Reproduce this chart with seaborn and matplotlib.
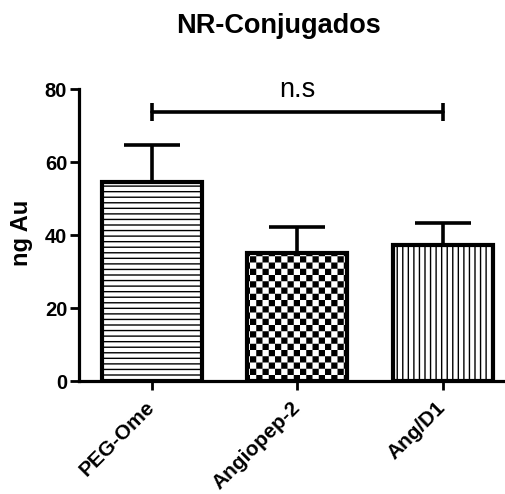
import warnings
import numpy as np
import pandas as pd
import matplotlib
matplotlib.use("Agg")
import matplotlib.pyplot as plt
from matplotlib import hatch as mhatch
from matplotlib.path import Path
import seaborn as sns

warnings.filterwarnings("ignore")

# Data
groups = ["PEG-Ome", "Angiopep-2", "Ang/D1"]
means = [54.5, 35.1, 37.2]
sems = [10.2, 7.1, 6.2]
hatches = ["---", "#", "|||"]
y_ticks = [0, 20, 40, 60, 80]
ns_label = "n.s"
ns_level = 73.7
title = "NR-Conjugados"
ylabel = "ng Au"


class CheckerHatch(mhatch.HatchPatternBase):
    """Filled checkerboard hatch, selected with '#'."""
    filled = True

    def __init__(self, hatch, density):
        self.n = hatch.count("#") * 16
        self.num_squares = (self.n * self.n) // 2 if self.n else 0
        self.num_vertices = self.num_squares * 5

    def set_vertices_and_codes(self, vertices, codes):
        n = self.n
        step = 1.0 / n
        shrink = 0.007
        k = 0
        for i in range(n):
            for j in range(n):
                if (i + j) % 2:
                    continue
                x0, y0 = i * step + shrink, j * step + shrink
                x1, y1 = (i + 1) * step - shrink, (j + 1) * step - shrink
                vertices[k:k + 5] = [(x0, y0), (x1, y0), (x1, y1), (x0, y1), (x0, y0)]
                codes[k] = Path.MOVETO
                codes[k + 1:k + 4] = Path.LINETO
                codes[k + 4] = Path.CLOSEPOLY
                k += 5


mhatch._hatch_types.append(CheckerHatch)

sns.set_style("white")
plt.rcParams["font.family"] = ["Liberation Sans", "DejaVu Sans"]
plt.rcParams["hatch.linewidth"] = 1.0
plt.rcParams["hatch.color"] = "black"
for key in ("text.color", "axes.labelcolor", "xtick.color", "ytick.color"):
    plt.rcParams[key] = "black"

fig = plt.figure(figsize=(5.06, 4.94), dpi=100)
ax = fig.add_axes([0.1561, 0.2287, 0.8626, 0.5911])

df = pd.DataFrame({"group": groups, "value": means})
sns.barplot(data=df, x="group", y="value", color="white", saturation=1,
            edgecolor="black", linewidth=3, width=0.69, errorbar=None, ax=ax)

for patch, h in zip(ax.patches, hatches):
    patch.set_hatch(h)
    patch.set_facecolor("white")

centers = [p.get_x() + p.get_width() / 2 for p in ax.patches]
ax.errorbar(centers, means, yerr=[np.zeros(len(means)), sems], fmt="none",
            ecolor="black", elinewidth=2.6, capsize=20, capthick=2.6, zorder=3)

# significance bracket
ax.plot([centers[0], centers[-1]], [ns_level, ns_level], color="black", lw=2.6,
        marker="|", markersize=13, markeredgewidth=2.6, clip_on=False, zorder=4)
ax.text((centers[0] + centers[-1]) / 2, 77.8, ns_label, ha="center",
        va="baseline", fontsize=19.5, color="black")

ax.set_xlim(-0.5, 2.5)
ax.set_ylim(0, 80)
ax.set_yticks(y_ticks)
ax.set_xlabel("")
ax.set_ylabel("")

sns.despine(ax=ax)
for side in ("left", "bottom"):
    ax.spines[side].set_linewidth(2.3)
    ax.spines[side].set_color("black")

ax.tick_params(axis="both", direction="out", length=6.5, width=2.0, color="black",
               labelcolor="black", labelsize=14.5, pad=2, bottom=True, left=True)
ax.tick_params(axis="x", labelsize=15, pad=10.5)
for lab in ax.get_yticklabels():
    lab.set_fontweight("bold")
for lab in ax.get_xticklabels():
    lab.set_fontweight("bold")
    lab.set_rotation(45)
    lab.set_ha("right")
    lab.set_va("center")
    lab.set_rotation_mode("anchor")

fig.text(279 / 506, 1 - 33 / 494, title, ha="center", va="baseline",
         fontsize=19.5, fontweight="bold")
fig.text(22 / 506, 1 - 233 / 494, ylabel, ha="center", va="center",
         rotation=90, fontsize=17, fontweight="bold")

fig.savefig("out.png", dpi=100)
